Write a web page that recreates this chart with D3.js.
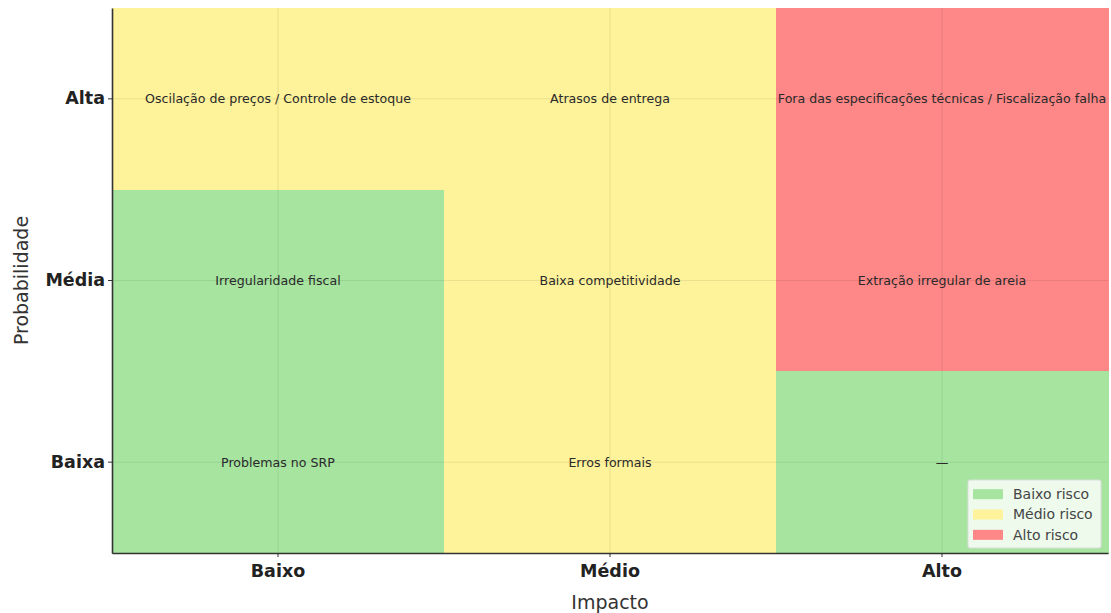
<!DOCTYPE html>
<html>
<head>
<meta charset="utf-8">
<script src="https://cdn.jsdelivr.net/npm/d3@7"></script>
<style>
  body { margin: 0; background: #fff; }
  svg { display: block; }
</style>
</head>
<body>
<div class="chart"></div>
<script>
// categorias dos eixos
var impactos = ["Baixo", "Médio", "Alto"];
var probabilidades = ["Alta", "Média", "Baixa"];

// nivel de risco de cada celula (linha = probabilidade, coluna = impacto)
var niveis_alta  = ["Médio", "Médio", "Alto"];
var niveis_media = ["Baixo", "Médio", "Alto"];
var niveis_baixa = ["Baixo", "Médio", "Baixo"];

// textos de cada celula
var riscos_alta  = ["Oscilação de preços / Controle de estoque", "Atrasos de entrega", "Fora das especificações técnicas / Fiscalização falha"];
var riscos_media = ["Irregularidade fiscal", "Baixa competitividade", "Extração irregular de areia"];
var riscos_baixa = ["Problemas no SRP", "Erros formais", "—"];

var legenda = ["Baixo risco", "Médio risco", "Alto risco"];
var cores = { "Baixo": "#a6e4a0", "Médio": "#fef39a", "Alto": "#fe8787" };

function desenhar_matriz(alvo, ancho, altura) {
  var margin = { top: 8, right: 3, bottom: 60, left: 112 },
    width = ancho - margin.left - margin.right,
    height = altura - margin.top - margin.bottom;

  var svg = d3.select(alvo).append("svg")
    .attr("width", ancho)
    .attr("height", altura)
    .append("g")
    .attr("transform", "translate(" + margin.left + "," + margin.top + ")");

  var x = d3.scaleBand().domain(impactos).range([0, width]);
  var y = d3.scaleBand().domain(probabilidades).range([0, height]);

  // monta as celulas a partir dos arrays
  var niveis = [niveis_alta, niveis_media, niveis_baixa];
  var textos = [riscos_alta, riscos_media, riscos_baixa];
  var celulas = [];
  probabilidades.forEach(function (p, i) {
    impactos.forEach(function (imp, j) {
      celulas.push({ prob: p, imp: imp, nivel: niveis[i][j], texto: textos[i][j] });
    });
  });

  svg.selectAll(".cel")
    .data(celulas)
    .enter()
    .append("rect")
    .attr("class", "cel")
    .attr("x", function (d) { return x(d.imp); })
    .attr("y", function (d) { return y(d.prob); })
    .attr("width", x.bandwidth() + 0.5)
    .attr("height", y.bandwidth() + 0.5)
    .attr("shape-rendering", "crispEdges")
    .attr("fill", function (d) { return cores[d.nivel]; });

  // grade
  svg.append("g").selectAll("line")
    .data(impactos).enter().append("line")
    .attr("x1", function (d) { return x(d) + x.bandwidth() / 2; })
    .attr("x2", function (d) { return x(d) + x.bandwidth() / 2; })
    .attr("y1", 0).attr("y2", height)
    .attr("stroke", "#000").attr("stroke-opacity", 0.1).attr("stroke-width", 0.8);
  svg.append("g").selectAll("line")
    .data(probabilidades).enter().append("line")
    .attr("y1", function (d) { return y(d) + y.bandwidth() / 2; })
    .attr("y2", function (d) { return y(d) + y.bandwidth() / 2; })
    .attr("x1", 0).attr("x2", width)
    .attr("stroke", "#000").attr("stroke-opacity", 0.1).attr("stroke-width", 0.8);

  // textos
  svg.selectAll(".txt")
    .data(celulas)
    .enter()
    .append("text")
    .attr("class", "txt")
    .attr("x", function (d) { return x(d.imp) + x.bandwidth() / 2; })
    .attr("y", function (d) { return y(d.prob) + y.bandwidth() / 2; })
    .attr("dy", "0.35em")
    .attr("text-anchor", "middle")
    .style("font-family", "DejaVu Sans, sans-serif")
    .style("font-size", "12.6px")
    .style("fill", "#2a2a2a")
    .text(function (d) { return d.texto; });

  // eixos
  var ax = svg.append("g")
    .attr("transform", "translate(0," + height + ")")
    .call(d3.axisBottom(x).tickSize(4).tickSizeOuter(0));
  var ay = svg.append("g")
    .call(d3.axisLeft(y).tickSize(4).tickSizeOuter(0));
  [ax, ay].forEach(function (a) {
    a.select(".domain").attr("stroke", "#333").attr("stroke-width", 1.6);
    a.selectAll(".tick line").attr("stroke", "#333");
    a.selectAll(".tick text")
      .style("font-family", "DejaVu Sans, sans-serif")
      .style("font-size", "17.5px")
      .style("font-weight", "bold")
      .style("fill", "#222");
  });
  ax.selectAll(".tick text").attr("dy", "0.95em");
  ay.selectAll(".tick text").attr("x", -7);

  svg.append("text")
    .attr("x", width / 2)
    .attr("y", height + 56)
    .attr("text-anchor", "middle")
    .style("font-family", "DejaVu Sans, sans-serif")
    .style("font-size", "19px")
    .style("fill", "#333")
    .text("Impacto");

  svg.append("text")
    .attr("transform", "translate(" + (-84) + "," + (height / 2) + ") rotate(-90)")
    .attr("text-anchor", "middle")
    .style("font-family", "DejaVu Sans, sans-serif")
    .style("font-size", "19px")
    .style("fill", "#333")
    .text("Probabilidade");

  // legenda
  var leg = svg.append("g").attr("transform", "translate(" + (width - 140) + "," + (height - 73) + ")");
  leg.append("rect")
    .attr("width", 133).attr("height", 68)
    .attr("rx", 2)
    .attr("fill", "#fff").attr("fill-opacity", 0.8)
    .attr("stroke", "#ddd");
  var ly = d3.scaleBand().domain(legenda).range([4, 65]);
  var nivel_leg = ["Baixo", "Médio", "Alto"];
  leg.selectAll(".lr")
    .data(legenda).enter().append("rect")
    .attr("x", 5)
    .attr("y", function (d) { return ly(d) + ly.bandwidth() / 2 - 5; })
    .attr("width", 30).attr("height", 10)
    .attr("fill", function (d, i) { return cores[nivel_leg[i]]; });
  leg.selectAll(".lt")
    .data(legenda).enter().append("text")
    .attr("x", 45)
    .attr("y", function (d) { return ly(d) + ly.bandwidth() / 2; })
    .attr("dy", "0.35em")
    .style("font-family", "DejaVu Sans, sans-serif")
    .style("font-size", "14px")
    .style("fill", "#444")
    .text(function (d) { return d; });
}

desenhar_matriz(".chart", 1111, 613);
</script>
</body>
</html>
